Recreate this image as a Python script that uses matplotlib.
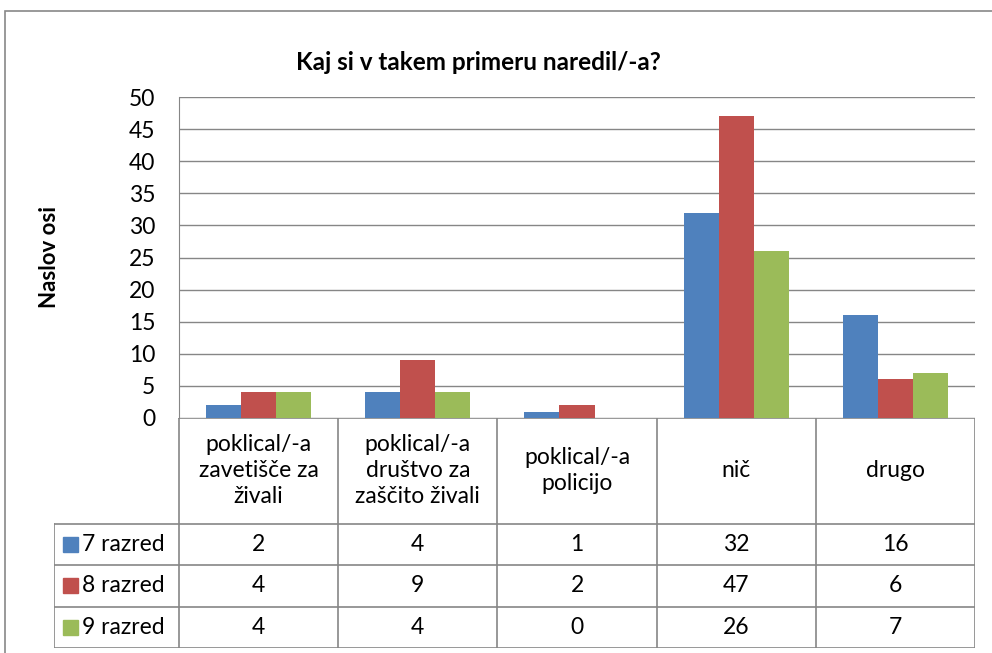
import numpy as np
import matplotlib.pyplot as plt
from matplotlib.patches import Rectangle

plt.rcParams['font.family'] = ['Lato', 'DejaVu Sans']

# data
categories = ["poklical/-a\nzavetišče za\nživali",
              "poklical/-a\ndruštvo za\nzaščito živali",
              "poklical/-a\npolicijo",
              "nič",
              "drugo"]
series_names = ["7 razred", "8 razred", "9 razred"]
razred7 = [2, 4, 1, 32, 16]
razred8 = [4, 9, 2, 47, 6]
razred9 = [4, 4, 0, 26, 7]
values = [razred7, razred8, razred9]
colors = ["#4F81BD", "#C0504D", "#9BBB59"]

W, H = 992, 653
fig = plt.figure(figsize=(W / 100, H / 100), dpi=100)

def fx(px):
    return px / W

def fy(py):
    return 1 - py / H

# outer chart border (runs off the right and bottom edges)
fig.patches.append(Rectangle((fx(5), fy(700)), fx(1100), (700 - 11) / H,
                             transform=fig.transFigure, fill=False,
                             edgecolor="#888888", lw=1.2))

# bar plot area
ax = fig.add_axes([fx(179), fy(418), fx(975 - 179), (418 - 97) / H])
x = np.arange(len(categories))
bw = 0.22
for i, (name, vals) in enumerate(zip(series_names, values)):
    ax.bar(x + (i - 1) * bw, vals, width=bw, color=colors[i], label=name, zorder=3)

ax.set_xlim(-0.5, len(categories) - 0.5)
ax.set_ylim(0, 50)
ax.set_yticks(range(0, 51, 5))
ax.tick_params(axis="y", labelsize=16.5, length=0, pad=17)
ax.tick_params(axis="x", bottom=False, labelbottom=False)
ax.grid(axis="y", color="#868686", lw=1)
for s in ["top", "right", "bottom"]:
    ax.spines[s].set_visible(False)
ax.spines["left"].set_color("#868686")
ax.set_ylabel("Naslov osi", fontsize=16, fontweight="bold")
ax.yaxis.set_label_coords((60 - 179) / (975 - 179), 0.5)
fig.text(fx(478), fy(62), "Kaj si v takem primeru naredil/-a?",
         ha="center", va="center", fontsize=17.5, fontweight="bold")

# data table below the plot
cw = (975 - 179) / len(categories)       # px per category
leg_w = (179 - 54) / cw                  # legend column width in category units
tax = fig.add_axes([fx(54), fy(648), fx(975 - 54), (648 - 418) / H])
tax.set_xlim(-0.5 - leg_w, len(categories) - 0.5)
header_h = 106 / 41.5
n_rows = len(series_names)
tax.set_ylim(n_rows + header_h, 0)
tax.axis("off")
lc = "#868686"
# horizontal lines
tax.plot([-0.5, len(categories) - 0.5], [0, 0], color=lc, lw=1.2)
for r in range(n_rows + 1):
    yy = header_h + r
    tax.plot([-0.5 - leg_w, len(categories) - 0.5], [yy, yy], color=lc, lw=1.2)
# vertical lines
for c in range(len(categories) + 1):
    xx = c - 0.5
    tax.plot([xx, xx], [0, header_h + n_rows], color=lc, lw=1.2)
tax.plot([-0.5 - leg_w] * 2, [header_h, header_h + n_rows], color=lc, lw=1.2)

fs = 16.5
for c, cat in enumerate(categories):
    tax.text(c, header_h / 2, cat, ha="center", va="center", fontsize=fs,
             linespacing=1.3)
for r, name in enumerate(series_names):
    yy = header_h + r + 0.5
    tax.add_patch(Rectangle((-0.5 - leg_w + 9 / cw, yy - 0.18), 15 / cw, 0.36,
                            color=colors[r]))
    tax.text(-0.5 - leg_w + 28 / cw, yy, name, ha="left", va="center", fontsize=fs)
    for c, v in enumerate(values[r]):
        tax.text(c, yy, str(v), ha="center", va="center", fontsize=fs)

fig.savefig("out.png", dpi=100)
